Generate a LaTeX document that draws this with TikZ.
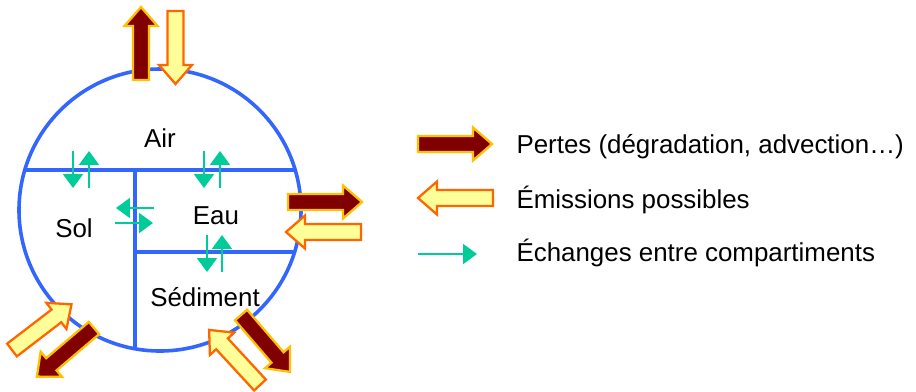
\documentclass[tikz,border=0pt]{standalone}
\usepackage{fontspec}
\setmainfont{Liberation Sans}
\usetikzlibrary{arrows.meta}

\definecolor{bordeau}{RGB}{128,0,0}
\definecolor{orjaune}{RGB}{255,192,0}
\definecolor{jaunepale}{RGB}{255,255,153}
\definecolor{orange}{RGB}{255,102,0}
\definecolor{vertech}{RGB}{0,204,153}
\definecolor{bleucomp}{RGB}{51,102,255}

\tikzset{
  pertes/.style={fill=bordeau, draw=orjaune, line width=2.3pt, line join=miter},
  emission/.style={fill=jaunepale, draw=orange, line width=2.3pt, line join=miter},
  echange/.style={vertech, line width=2.2pt, -{Triangle[length=14pt,width=20pt]}},
  paroi/.style={bleucomp, line width=3.6pt},
  etiquette/.style={font=\fontsize{26}{30}\selectfont},
}

% big arrow: style, tail point, angle, length
\newcommand{\grossefleche}[4]{%
  \filldraw[#1, shift={#2}, rotate=#3]
    (0,-8) -- (#4-19,-8) -- (#4-19,-16.5) -- (#4,0) -- (#4-19,16.5) -- (#4-19,8) -- (0,8) -- cycle;
}

\begin{document}
\begin{tikzpicture}[x=1bp, y=-1bp]
    \useasboundingbox (0,0) rectangle (916,391);

    % The compartments
    \coordinate (centre) at (160,210);
    \draw[paroi] (centre) circle (141);
    \draw[paroi] (24.8,170) -- (295.2,170);
    \draw[paroi] (135,170) -- (135,348.8);
    \draw[paroi] (135,252) -- (294.6,252);

    \node[etiquette] (air) at (160,138) {Air};
    \node[etiquette] (sol) at (74,228) {Sol};
    \node[etiquette] (eau) at (216,216) {Eau};
    \node[etiquette] (sediment) at (205,297) {Sédiment};

    % Exchanges between compartments
    \coordinate (as1) at (73,151);  \coordinate (as2) at (73,188);
    \coordinate (as3) at (89,188);  \coordinate (as4) at (89,151);
    \coordinate (ae1) at (204,151); \coordinate (ae2) at (204,188);
    \coordinate (ae3) at (220,188); \coordinate (ae4) at (220,151);
    \coordinate (es1) at (207,235); \coordinate (es2) at (207,272);
    \coordinate (es3) at (222,272); \coordinate (es4) at (222,235);
    \coordinate (se1) at (154,208); \coordinate (se2) at (116,208);
    \coordinate (se3) at (115,223); \coordinate (se4) at (153,223);
    \draw[echange] (as1) -- (as2);
    \draw[echange] (as3) -- (as4);
    \draw[echange] (ae1) -- (ae2);
    \draw[echange] (ae3) -- (ae4);
    \draw[echange] (es1) -- (es2);
    \draw[echange] (es3) -- (es4);
    \draw[echange] (se1) -- (se2);
    \draw[echange] (se3) -- (se4);

    % Losses and emissions
    \grossefleche{pertes}{(141,80)}{90}{73}
    \grossefleche{emission}{(175.5,11)}{-90}{73}
    \grossefleche{pertes}{(288,202)}{0}{74}
    \grossefleche{emission}{(361,232)}{180}{75}
    \grossefleche{emission}{(12,350)}{37.5}{75}
    \grossefleche{pertes}{(94,328)}{220.4}{75}
    \grossefleche{pertes}{(241,315)}{-49.3}{75}
    \grossefleche{emission}{(260,385)}{132.7}{75}

    % Legend
    \grossefleche{pertes}{(418,144)}{0}{74}
    \grossefleche{emission}{(493,198)}{180}{75}
    \coordinate (lg1) at (418,254);
    \coordinate (lg2) at (477,254);
    \draw[echange] (lg1) -- (lg2);

    \node[etiquette, anchor=west] (lpertes) at (513,147) {Pertes (dégradation, advection…)};
    \node[etiquette, anchor=west] (lemis) at (513,200) {Émissions possibles};
    \node[etiquette, anchor=west] (lech) at (513,253) {Échanges entre compartiments};
\end{tikzpicture}
\end{document}
